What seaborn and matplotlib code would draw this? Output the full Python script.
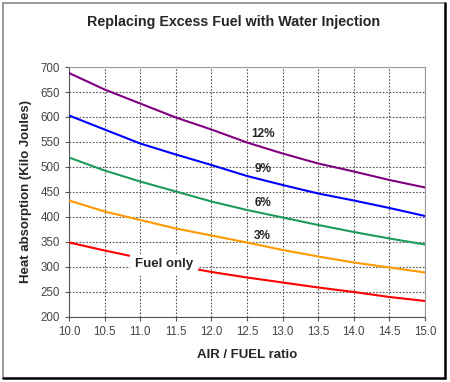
import numpy as np
import pandas as pd
import matplotlib.pyplot as plt
import seaborn as sns
from matplotlib.lines import Line2D

# values
air_fuel = [10.0, 10.5, 11.0, 11.5, 12.0, 12.5, 13.0, 13.5, 14.0, 14.5, 15.0]
water_12 = [688, 655, 627, 599, 575, 549, 527, 507, 491, 474, 459]
water_9 = [603, 575, 547, 525, 504, 482, 464, 447, 433, 418, 402]
water_6 = [519, 493, 471, 451, 431, 414, 399, 384, 370, 357, 345]
water_3 = [433, 411, 394, 377, 363, 349, 334, 321, 309, 299, 289]
fuel_only = [349, 333, 318, 303, 290, 279, 269, 259, 250, 240, 232]

series_names = ["12%", "9%", "6%", "3%", "Fuel only"]
series_colors = ["#800080", "#0000FF", "#1E9B5A", "#FF9900", "#FF0000"]

df = pd.DataFrame({"12%": water_12, "9%": water_9, "6%": water_6,
                   "3%": water_3, "Fuel only": fuel_only}, index=air_fuel)
long_df = df.reset_index(names="ratio").melt(id_vars="ratio", var_name="series", value_name="heat")

sns.set_style("white")
plt.rcParams['font.family'] = ['Liberation Sans', 'DejaVu Sans']

fig = plt.figure(figsize=(4.5, 3.82), dpi=100)
ax = fig.add_axes([0.1533, 0.1702, 0.7911, 0.6544])

sns.lineplot(data=long_df, x="ratio", y="heat", hue="series", hue_order=series_names,
             palette=series_colors, linewidth=1.5, legend=False, ax=ax, zorder=3)

ax.set_xlim(10.0, 15.0)
ax.set_ylim(200, 700)
ax.set_xticks(np.arange(10.0, 15.01, 0.5))
ax.set_yticks(np.arange(200, 701, 50))
ax.set_xticklabels([f"{v:.1f}" for v in np.arange(10.0, 15.01, 0.5)])
ax.tick_params(axis="both", labelsize=8.3, labelcolor="#444444", length=3,
               direction="out", color="#555555", width=0.8, bottom=True, left=True)
ax.grid(True, linestyle=(0, (1.5, 1.5)), color="#555555", linewidth=0.8)
for side in ["top", "right"]:
    ax.spines[side].set_color("#999999")
    ax.spines[side].set_linewidth(0.8)
for side in ["left", "bottom"]:
    ax.spines[side].set_color("#555555")
    ax.spines[side].set_linewidth(0.8)

ax.set_xlabel("AIR / FUEL ratio", fontsize=9.5, fontweight="bold", labelpad=8)
ax.set_ylabel("Heat absorption (Kilo Joules)", fontsize=9.5, fontweight="bold", labelpad=6)

# series labels
for name, x, y in [("12%", 12.72, 566), ("9%", 12.72, 496), ("6%", 12.72, 428), ("3%", 12.72, 362)]:
    ax.text(x, y, name, fontsize=8.5, fontweight="bold", ha="center", va="center", zorder=5)
ax.text(11.34, 305, "Fuel only", fontsize=9.5, fontweight="bold", ha="center", va="center",
        zorder=5, bbox=dict(facecolor="white", edgecolor="none", pad=3.5))

fig.text(0.518, 0.942, "Replacing Excess Fuel with Water Injection",
         fontsize=10.3, fontweight="bold", ha="center", va="center")

# chart frame with shadow edges
w, h = 450, 382
fig.add_artist(Line2D([3 / w, 3 / w], [1 - 3 / h, 1 - 378 / h], color="#888888", lw=1.2,
                      transform=fig.transFigure))
fig.add_artist(Line2D([3 / w, 445 / w], [1 - 3 / h, 1 - 3 / h], color="#888888", lw=1.2,
                      transform=fig.transFigure))
fig.add_artist(Line2D([445 / w, 445 / w], [1 - 3 / h, 1 - 378 / h], color="black", lw=1.8,
                      transform=fig.transFigure))
fig.add_artist(Line2D([3 / w, 445 / w], [1 - 378 / h, 1 - 378 / h], color="black", lw=1.8,
                      transform=fig.transFigure))

fig.savefig("out.png", dpi=100)
